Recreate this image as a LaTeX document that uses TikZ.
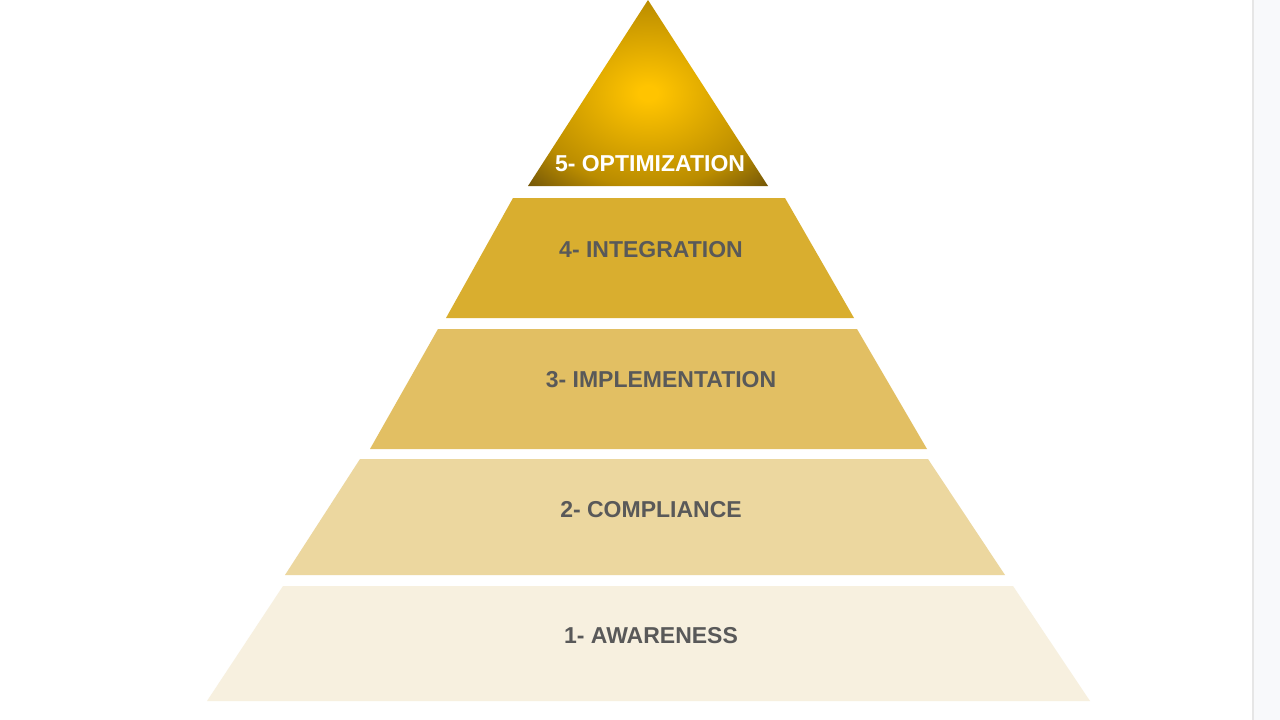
\documentclass[tikz,border=0pt]{standalone}
\usepackage{fontspec}
\setmainfont{Liberation Sans}
\usepackage{tikz}
\usetikzlibrary{positioning}

\definecolor{goldhi}{HTML}{FFC400}
\definecolor{goldmid}{HTML}{BA8C00}
\definecolor{goldlo}{HTML}{6E5208}
\definecolor{tierfour}{HTML}{D9AE2F}
\definecolor{tierthree}{HTML}{E2BF63}
\definecolor{tiertwo}{HTML}{ECD79F}
\definecolor{tierone}{HTML}{F7F0DF}
\definecolor{labelgray}{HTML}{595959}
\definecolor{panelgray}{HTML}{F8F9FB}
\definecolor{edgegray}{HTML}{E6E6E6}

\pgfdeclareradialshading{apexglow}{\pgfpoint{0bp}{0bp}}{%
  color(0bp)=(goldhi); color(2bp)=(goldhi); color(25bp)=(goldmid);
  color(36bp)=(goldlo); color(50bp)=(goldlo)}

\begin{document}
\begin{tikzpicture}[x=1pt,y=-1pt,
    level/.style={font=\fontsize{23}{27}\selectfont\bfseries, text=labelgray, inner sep=0pt},
    toplevel/.style={level, text=white}]

  \useasboundingbox (0,0) rectangle (1280,720);
  \fill[white] (0,0) rectangle (1280,720);
  \fill[panelgray] (1254,0) rectangle (1280,720);
  \fill[edgegray] (1252,0) rectangle (1254,720);

  % pyramid tiers, top to bottom
  \shade[shading=apexglow] (648,0) -- (768,186) -- (528,186) -- cycle;
  \fill[tierfour]  (513,198) -- (785,198) -- (854,318) -- (446,318) -- cycle;
  \fill[tierthree] (438,329) -- (857,329) -- (927,449) -- (370,449) -- cycle;
  \fill[tiertwo]   (360,459) -- (928,459) -- (1005,575) -- (285,575) -- cycle;
  \fill[tierone]   (283,586) -- (1013,586) -- (1090,701) -- (207,701) -- cycle;

  \node[toplevel] (optim) at (650,164) {5- OPTIMIZATION};
  \node[level] (integ) at (651,250) {4- INTEGRATION};
  \node[level] (implem) at (661,380) {3- IMPLEMENTATION};
  \node[level] (compl) at (651,510) {2- COMPLIANCE};
  \node[level] (aware) at (651,636) {1- AWARENESS};

\end{tikzpicture}
\end{document}
